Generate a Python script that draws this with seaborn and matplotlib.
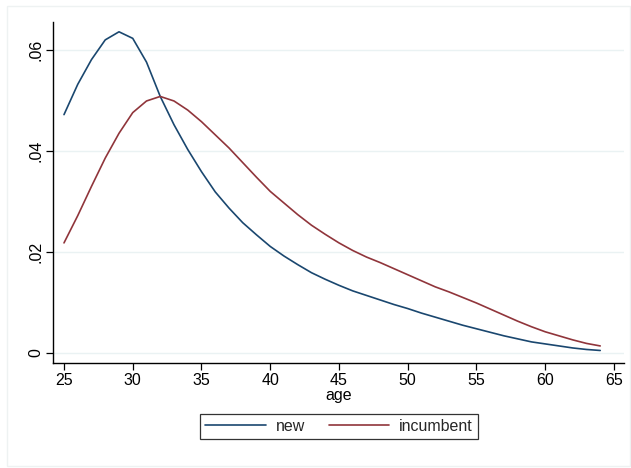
import numpy as np
import pandas as pd
import matplotlib
matplotlib.use("Agg")
import matplotlib.pyplot as plt
import seaborn as sns
from matplotlib.patches import Rectangle

age = list(range(25, 65))
new = [0.0472, 0.0532, 0.0581, 0.0620, 0.0636, 0.0623, 0.0576, 0.0508, 0.0452, 0.0403,
       0.0359, 0.0319, 0.0287, 0.0258, 0.0234, 0.0211, 0.0192, 0.0175, 0.0159, 0.0146,
       0.0134, 0.0123, 0.0114, 0.0105, 0.0096, 0.0088, 0.0079, 0.0071, 0.0063, 0.0055,
       0.0048, 0.0041, 0.0034, 0.0028, 0.0022, 0.0018, 0.0014, 0.0010, 0.0007, 0.0005]
incumbent = [0.0218, 0.0272, 0.0330, 0.0386, 0.0435, 0.0476, 0.0499, 0.0508, 0.0499, 0.0481,
             0.0458, 0.0432, 0.0406, 0.0377, 0.0348, 0.0320, 0.0297, 0.0274, 0.0253, 0.0235,
             0.0218, 0.0203, 0.0190, 0.0179, 0.0167, 0.0155, 0.0143, 0.0131, 0.0121, 0.0110,
             0.0099, 0.0087, 0.0075, 0.0063, 0.0052, 0.0042, 0.0034, 0.0026, 0.0019, 0.0014]
series_names = ["new", "incumbent"]
colors = ["#1a476f", "#90353b"]
xticks = [25, 30, 35, 40, 45, 50, 55, 60, 65]
yticks = [0, 0.02, 0.04, 0.06]
ytick_labels = ["0", ".02", ".04", ".06"]

df = pd.DataFrame({
    "age": age * 2,
    "value": new + incumbent,
    "series": ["new"] * len(age) + ["incumbent"] * len(age),
})

sns.set_theme(style="white")
plt.rcParams["font.family"] = ["Liberation Sans", "DejaVu Sans"]

W, H = 631, 468
FS = 11.5
fig = plt.figure(figsize=(W / 100, H / 100), dpi=100)
fig.patch.set_facecolor("white")
fig.add_artist(Rectangle((7 / W, 1 - 466 / H), (630 - 7) / W, (466 - 6) / H,
                         transform=fig.transFigure, fill=False,
                         edgecolor="#eef2f2", linewidth=1.0))

ax = fig.add_axes([53 / W, 1 - 363 / H, (624 - 53) / W, (363 - 22) / H])
sns.lineplot(data=df, x="age", y="value", hue="series", hue_order=series_names,
             palette=colors, linewidth=1.2, ax=ax, legend=True)

ax.set_xlim(24.2, 65.73)
ax.set_ylim(-0.00198, 0.06554)
ax.set_xticks(xticks)
ax.set_xticklabels([str(t) for t in xticks], fontsize=FS, color="black")
ax.set_yticks(yticks)
ax.set_yticklabels(ytick_labels, fontsize=FS, rotation=90, va="center", color="black")
for t in yticks:
    ax.axhline(t, color="#eaf2f3", linewidth=1.0, zorder=0)
ax.tick_params(axis="both", direction="out", length=5, width=0.9, color="black",
               bottom=True, left=True, pad=2)
for s in ["top", "right"]:
    ax.spines[s].set_visible(False)
for s in ["left", "bottom"]:
    ax.spines[s].set_color("black")
    ax.spines[s].set_linewidth(1.0)
ax.set_xlabel("age", fontsize=FS, labelpad=0, color="black")
ax.set_ylabel("")

handles, labels = ax.get_legend_handles_labels()
ax.legend(handles, labels, ncol=2, loc="upper center",
          bbox_to_anchor=(339 / W, 1 - 414 / H), bbox_transform=fig.transFigure,
          frameon=True, fancybox=False, edgecolor="black", fontsize=FS,
          handlelength=3.8, handletextpad=0.6, columnspacing=1.5,
          borderpad=0.3, borderaxespad=0)
leg = ax.get_legend()
leg.get_frame().set_linewidth(0.9)

fig.savefig("out.png", dpi=100)
